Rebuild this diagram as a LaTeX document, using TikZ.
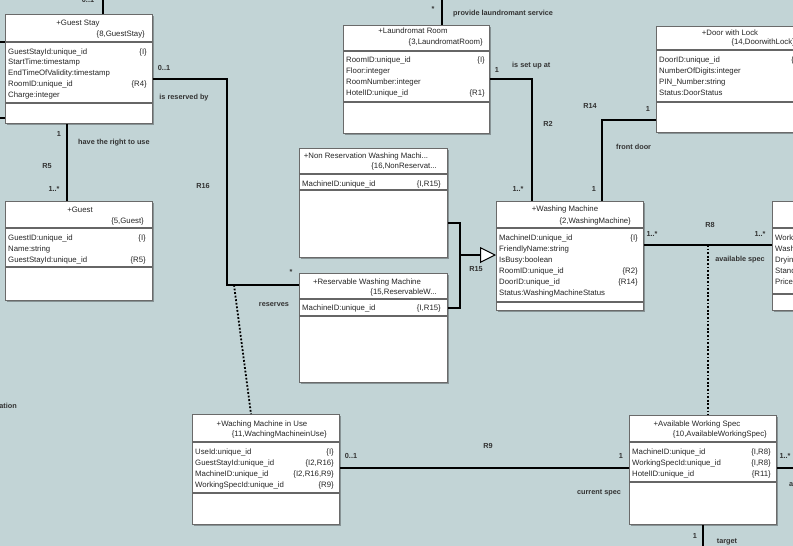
\documentclass[tikz,border=0pt]{standalone}
\usepackage{fontspec}
\setmainfont{Liberation Sans}
\usetikzlibrary{arrows.meta,shadows}

\definecolor{canvas}{HTML}{C2D4D6}
\definecolor{frame}{HTML}{6A6A6A}

\begin{document}
\begin{tikzpicture}[x=1pt, y=-1pt,
    classbox/.style={draw=frame, fill=white, anchor=north west, inner sep=0pt, line width=0.8pt,
        drop shadow={shadow xshift=1.6pt, shadow yshift=-1.6pt, opacity=0.3, fill=black}},
    compart/.style={draw=black!60, line width=1.2pt},
    ctitle/.style={font=\fontsize{7.8}{9}\selectfont, inner sep=0pt, text height=5.6pt, text depth=1.6pt, text=black!85},
    attr/.style={ctitle, anchor=west},
    ckey/.style={ctitle, anchor=east},
    conn/.style={line width=2pt},
    dots/.style={line width=1.8pt, dash pattern=on 1.8pt off 1.8pt},
    lbl/.style={font=\fontsize{7.3}{9}\selectfont\bfseries, inner sep=0pt, text height=5.4pt, text depth=1.5pt, text=black!80}]
        \useasboundingbox (0,0) rectangle (793,546);
        \clip (0,0) rectangle (793,546);
        \fill[canvas] (0,0) rectangle (793,546);

        % Nodes
        \node[classbox, minimum width=147pt, minimum height=109pt] (gstay) at (5,14) {};
        \draw[compart] (5,42) -- (152,42);
        \draw[compart] (5,103) -- (152,103);
        \node[ctitle] (gstay-t) at (78,23) {+Guest Stay};
        \node[ckey] (gstay-k) at (145,34) {\{8,GuestStay\}};
        \node[attr] (gstay-a1) at (8,52) {GuestStayId:unique\_id};
        \node[ckey] (gstay-k1) at (147,52) {\{I\}};
        \node[attr] (gstay-a2) at (8,62) {StartTime:timestamp};
        \node[attr] (gstay-a3) at (8,73) {EndTimeOfValidity:timestamp};
        \node[attr] (gstay-a4) at (8,84) {RoomID:unique\_id};
        \node[ckey] (gstay-k4) at (147,84) {\{R4\}};
        \node[attr] (gstay-a5) at (8,95) {Charge:integer};

        \node[classbox, minimum width=147pt, minimum height=99pt] (guest) at (5,201) {};
        \draw[compart] (5,228) -- (152,228);
        \draw[compart] (5,267) -- (152,267);
        \node[ctitle] (guest-t) at (80,210) {+Guest};
        \node[ckey] (guest-k) at (144,221) {\{5,Guest\}};
        \node[attr] (guest-a1) at (8,238) {GuestID:unique\_id};
        \node[ckey] (guest-k1) at (146,238) {\{I\}};
        \node[attr] (guest-a2) at (8,249) {Name:string};
        \node[attr] (guest-a3) at (8,260) {GuestStayId:unique\_id};
        \node[ckey] (guest-k3) at (146,260) {\{R5\}};

        \node[classbox, minimum width=146pt, minimum height=108pt] (lroom) at (343,25) {};
        \draw[compart] (343,51) -- (489,51);
        \draw[compart] (343,102) -- (489,102);
        \node[ctitle] (lroom-t) at (413,32) {+Laundromat Room};
        \node[ckey] (lroom-k) at (483,43) {\{3,LaundromatRoom\}};
        \node[attr] (lroom-a1) at (346,60) {RoomID:unique\_id};
        \node[ckey] (lroom-k1) at (485,60) {\{I\}};
        \node[attr] (lroom-a2) at (346,71) {Floor:integer};
        \node[attr] (lroom-a3) at (346,82) {RoomNumber:integer};
        \node[attr] (lroom-a4) at (346,93) {HotelID:unique\_id};
        \node[ckey] (lroom-k4) at (485,93) {\{R1\}};

        \node[classbox, minimum width=147pt, minimum height=106pt] (door) at (656,26) {};
        \draw[compart] (656,50) -- (803,50);
        \draw[compart] (656,102) -- (803,102);
        \node[ctitle] (door-t) at (730,33) {+Door with Lock};
        \node[ckey] (door-k) at (795,43) {\{14,DoorwithLock\}};
        \node[attr] (door-a1) at (659,60) {DoorID:unique\_id};
        \node[ckey] (door-k1) at (799,60) {\{I\}};
        \node[attr] (door-a2) at (659,71) {NumberOfDigits:integer};
        \node[attr] (door-a3) at (659,82) {PIN\_Number:string};
        \node[attr] (door-a4) at (659,93) {Status:DoorStatus};

        \node[classbox, minimum width=148pt, minimum height=109pt] (nrwm) at (299,148) {};
        \draw[compart] (299,174) -- (447,174);
        \draw[compart] (299,190) -- (447,190);
        \node[ctitle] (nrwm-t) at (366,156) {+Non Reservation Washing Machi...};
        \node[ckey] (nrwm-k) at (437,166) {\{16,NonReservat...};
        \node[attr] (nrwm-a1) at (302,184) {MachineID:unique\_id};
        \node[ckey] (nrwm-k1) at (441,184) {\{I,R15\}};

        \node[classbox, minimum width=148pt, minimum height=109pt] (rwm) at (299,273) {};
        \draw[compart] (299,299) -- (447,299);
        \draw[compart] (299,316) -- (447,316);
        \node[ctitle] (rwm-t) at (367,282) {+Reservable Washing Machine};
        \node[ckey] (rwm-k) at (437,292) {\{15,ReservableW...};
        \node[attr] (rwm-a1) at (302,308) {MachineID:unique\_id};
        \node[ckey] (rwm-k1) at (441,308) {\{I,R15\}};

        \node[classbox, minimum width=147pt, minimum height=109pt] (wm) at (496,201) {};
        \draw[compart] (496,228) -- (643,228);
        \draw[compart] (496,302) -- (643,302);
        \node[ctitle] (wm-t) at (565,209) {+Washing Machine};
        \node[ckey] (wm-k) at (631,221) {\{2,WashingMachine\}};
        \node[attr] (wm-a1) at (499,238) {MachineID:unique\_id};
        \node[ckey] (wm-k1) at (638,238) {\{I\}};
        \node[attr] (wm-a2) at (499,249) {FriendlyName:string};
        \node[attr] (wm-a3) at (499,260) {IsBusy:boolean};
        \node[attr] (wm-a4) at (499,271) {RoomID:unique\_id};
        \node[ckey] (wm-k4) at (638,271) {\{R2\}};
        \node[attr] (wm-a5) at (499,282) {DoorID:unique\_id};
        \node[ckey] (wm-k5) at (638,282) {\{R14\}};
        \node[attr] (wm-a6) at (499,293) {Status:WashingMachineStatus};

        \node[classbox, minimum width=147pt, minimum height=109pt] (spec) at (772,201) {};
        \draw[compart] (772,228) -- (919,228);
        \draw[compart] (772,294) -- (919,294);
        \node[attr] (spec-a1) at (775,238) {Work};
        \node[attr] (spec-a2) at (775,249) {Wash};
        \node[attr] (spec-a3) at (775,260) {Dryin};
        \node[attr] (spec-a4) at (775,271) {Stand};
        \node[attr] (spec-a5) at (775,282) {Price:};

        \node[classbox, minimum width=147pt, minimum height=110pt] (wmiu) at (192,414) {};
        \draw[compart] (192,442) -- (339,442);
        \draw[compart] (192,493) -- (339,493);
        \node[ctitle] (wmiu-t) at (262,424) {+Waching Machine in Use};
        \node[ckey] (wmiu-k) at (327,434) {\{11,WachingMachineinUse\}};
        \node[attr] (wmiu-a1) at (195,452) {UseId:unique\_id};
        \node[ckey] (wmiu-k1) at (334,452) {\{I\}};
        \node[attr] (wmiu-a2) at (195,463) {GuestStayId:unique\_id};
        \node[ckey] (wmiu-k2) at (334,463) {\{I2,R16\}};
        \node[attr] (wmiu-a3) at (195,474) {MachineID:unique\_id};
        \node[ckey] (wmiu-k3) at (334,474) {\{I2,R16,R9\}};
        \node[attr] (wmiu-a4) at (195,485) {WorkingSpecId:unique\_id};
        \node[ckey] (wmiu-k4) at (334,485) {\{R9\}};

        \node[classbox, minimum width=147pt, minimum height=109pt] (aws) at (629,415) {};
        \draw[compart] (629,442) -- (776,442);
        \draw[compart] (629,482) -- (776,482);
        \node[ctitle] (aws-t) at (697,424) {+Available Working Spec};
        \node[ckey] (aws-k) at (767,434) {\{10,AvailableWorkingSpec\}};
        \node[attr] (aws-a1) at (632,452) {MachineID:unique\_id};
        \node[ckey] (aws-k1) at (771,452) {\{I,R8\}};
        \node[attr] (aws-a2) at (632,463) {WorkingSpecId:unique\_id};
        \node[ckey] (aws-k2) at (771,463) {\{I,R8\}};
        \node[attr] (aws-a3) at (632,474) {HotelID:unique\_id};
        \node[ckey] (aws-k3) at (771,474) {\{R11\}};

        % Coordinates
        \coordinate (gstay-up) at (103,-4);
        \coordinate (gstay-l1) at (-4,42);
        \coordinate (gstay-l2) at (-4,118);
        \coordinate (r5) at (67,0);
        \coordinate (r16a) at (227,79);
        \coordinate (r16b) at (227,285);
        \coordinate (r16c) at (234,285);
        \coordinate (r16d) at (251,0);
        \coordinate (lroom-up) at (442,-4);
        \coordinate (r2) at (532,79);
        \coordinate (r14) at (602,120);
        \coordinate (gen) at (460,255);
        \coordinate (gen1) at (460,223);
        \coordinate (gen2) at (460,308);
        \coordinate (r8) at (708,245);
        \coordinate (r9) at (0,468);
        \coordinate (aws-r) at (800,468);
        \coordinate (aws-d) at (703,552);

        % Edges
        \draw[conn] (gstay-up) -- (gstay.north -| gstay-up);
        \draw[conn] (gstay-l1) -- (gstay.west |- gstay-l1);
        \draw[conn] (gstay-l2) -- (gstay.west |- gstay-l2);
        \draw[conn] (gstay.south -| r5) -- (guest.north -| r5);
        \draw[conn] (gstay.east |- r16a) -- (r16a) -- (r16b) -- (rwm.west |- r16b);
        \draw[dots] (r16c) -- (wmiu.north -| r16d);
        \draw[conn] (lroom-up) -- (lroom.north -| lroom-up);
        \draw[conn] (lroom.east |- r2) -- (r2) -- (wm.north -| r2);
        \draw[conn] (door.west |- r14) -- (r14) -- (wm.north -| r14);
        \draw[conn] (nrwm.east |- gen1) -- (gen1) -- (gen);
        \draw[conn] (rwm.east |- gen2) -- (gen2) -- (gen);
        \draw[conn, -{Triangle[length=16pt, width=16pt, fill=white, line width=1pt]}] (gen) -- (wm.west |- gen);
        \draw[conn] (wm.east |- r8) -- (spec.west |- r8);
        \draw[dots] (r8) -- (aws.north -| r8);
        \draw[conn] (wmiu.east |- r9) -- (aws.west |- r9);
        \draw[conn] (aws.east |- aws-r) -- (aws-r);
        \draw[conn] (aws.south -| aws-d) -- (aws-d);

        % Labels
        \node[lbl] (m1) at (88,1) {0..1};
        \node[lbl] (m2) at (59,135) {1};
        \node[lbl, anchor=west] (n1) at (78,143) {have the right to use};
        \node[lbl] (n2) at (47,167) {R5};
        \node[lbl] (m3) at (54,190) {1..*};
        \node[lbl] (m4) at (164,69) {0..1};
        \node[lbl] (n3) at (184,98) {is reserved by};
        \node[lbl] (n4) at (203,187) {R16};
        \node[lbl] (m5) at (291,273) {*};
        \node[lbl] (n5) at (274,305) {reserves};
        \node[lbl] (m6) at (433,10) {*};
        \node[lbl, anchor=west] (n6) at (453,14) {provide laundromant service};
        \node[lbl] (m7) at (497,71) {1};
        \node[lbl, anchor=west] (n7) at (512,66) {is set up at};
        \node[lbl] (n8) at (548,125) {R2};
        \node[lbl] (m8) at (518,190) {1..*};
        \node[lbl] (n9) at (590,107) {R14};
        \node[lbl] (m9) at (648,110) {1};
        \node[lbl, anchor=west] (n10) at (616,148) {front door};
        \node[lbl] (m10) at (594,190) {1};
        \node[lbl] (n11) at (476,270) {R15};
        \node[lbl] (m11) at (652,235) {1..*};
        \node[lbl] (n12) at (710,226) {R8};
        \node[lbl] (m12) at (760,235) {1..*};
        \node[lbl] (n13) at (740,260) {available spec};
        \node[lbl] (m13) at (351,457) {0..1};
        \node[lbl] (n14) at (488,447) {R9};
        \node[lbl] (m14) at (621,457) {1};
        \node[lbl] (n15) at (599,493) {current spec};
        \node[lbl] (m15) at (785,457) {1..*};
        \node[lbl, anchor=west] (n16) at (789,485) {a};
        \node[lbl] (m16) at (695,537) {1};
        \node[lbl] (n17) at (727,542) {target};
        \node[lbl, anchor=east] (n18) at (17,407) {ation};
    \end{tikzpicture}
\end{document}
